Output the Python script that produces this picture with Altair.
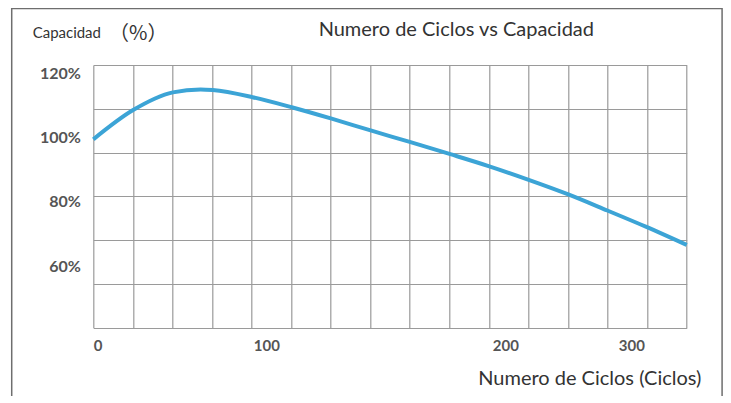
import altair as alt
import pandas as pd

# Data
CYCLES = [0, 23, 46, 62, 69, 92, 111, 127, 144, 160, 177, 193, 218, 250, 281, 312, 344]
CAPACITY = [99.4, 108.5, 114.0, 114.9, 114.7, 112.5, 109.3, 105.9, 102.1,
            98.6, 94.8, 91.1, 86.9, 82.3, 77.3, 72.2, 66.6]
X_TICKS = [0, 100, 200, 300]
Y_TICKS = [60, 80, 100, 120]
GRID_COLS = 15
GRID_ROWS = 6

TITLE = "Numero de Ciclos vs Capacidad"
X_TITLE = "Numero de Ciclos (Ciclos)"
Y_TITLE = "Capacidad"
Y_UNIT = "（%）"

W, H = 593.4, 262.7
FONT = "Lato"
TEXT = "#333333"

df = pd.DataFrame({"cycles": CYCLES, "capacity": CAPACITY})

# the printed x axis is not evenly spaced: piecewise scale through the labels
x_scale = alt.Scale(domain=[0, 100, 200, 300, 344], range=[0, 173, 412, 538, W],
                    nice=False, zero=False)
y_scale = alt.Scale(domain=[40.9, 122.5], nice=False, zero=False)

frame = alt.Chart(pd.DataFrame({"k": [0]})).mark_rect(
    fillOpacity=0, stroke="#6e6e6e", strokeWidth=1.5
).encode(x=alt.value(-81.6), x2=alt.value(628.8), y=alt.value(-56.5), y2=alt.value(345))

grid_df = pd.DataFrame({"col": [0, GRID_COLS], "row": [0, GRID_ROWS]})
grid = alt.Chart(grid_df).mark_point(opacity=0).encode(
    x=alt.X("col:Q", scale=alt.Scale(domain=[0, GRID_COLS], nice=False, zero=False),
            axis=alt.Axis(orient="top", values=list(range(GRID_COLS + 1)), labels=False,
                          ticks=False, domain=False, grid=True, title="",
                          gridColor="#9a9a9a", gridWidth=1.2)),
    y=alt.Y("row:Q", scale=alt.Scale(domain=[0, GRID_ROWS], nice=False, zero=False),
            axis=alt.Axis(orient="right", values=list(range(GRID_ROWS + 1)), labels=False,
                          ticks=False, domain=False, grid=True, title="",
                          gridColor="#9a9a9a", gridWidth=1.2)),
)

line = alt.Chart(df).mark_line(color="#3ca4d6", strokeWidth=4, interpolate="monotone").encode(
    x=alt.X("cycles:Q", scale=x_scale,
            axis=alt.Axis(orient="bottom", values=X_TICKS, grid=False, domain=False, ticks=False,
                          labelPadding=11, labelFont=FONT, labelFontSize=15, labelFontWeight="bold",
                          labelColor="#555555",
                          title=X_TITLE, titleFont=FONT, titleFontSize=20, titleFontWeight="normal",
                          titleColor=TEXT, titleX=496, titleY=57, titleAlign="center",
                          titleBaseline="alphabetic")),
    y=alt.Y("capacity:Q", scale=y_scale,
            axis=alt.Axis(orient="left", values=Y_TICKS, labelExpr="datum.value + '%'",
                          grid=False, domain=False, ticks=False, labelPadding=13,
                          labelFont=FONT, labelFontSize=16, labelFontWeight="bold",
                          labelColor="#555555",
                          title=Y_TITLE, titleFont=FONT, titleFontSize=15, titleFontWeight="normal",
                          titleColor=TEXT, titleAngle=0, titleX=-27, titleY=-27,
                          titleAlign="center", titleBaseline="alphabetic")),
)

unit = alt.Chart(pd.DataFrame({"t": [Y_UNIT]})).mark_text(
    font="Noto Sans CJK JP", fontSize=20, color=TEXT, align="center", baseline="middle"
).encode(text="t:N", x=alt.value(45), y=alt.value(-31))

title = alt.Chart(pd.DataFrame({"t": [TITLE]})).mark_text(
    font=FONT, fontSize=20, color=TEXT, align="center", baseline="alphabetic"
).encode(text="t:N", x=alt.value(363), y=alt.value(-29))

chart = alt.layer(frame, grid, line, unit, title).resolve_scale(
    x="independent", y="independent"
).properties(
    width=W, height=H,
    autosize=alt.AutoSizeParams(type="none"),
    padding={"left": 85.3, "top": 57, "right": 36.3, "bottom": 68},
    background="white",
).configure_view(stroke=None)

chart.save("out.html", embed_options={"renderer": "svg", "actions": False})
